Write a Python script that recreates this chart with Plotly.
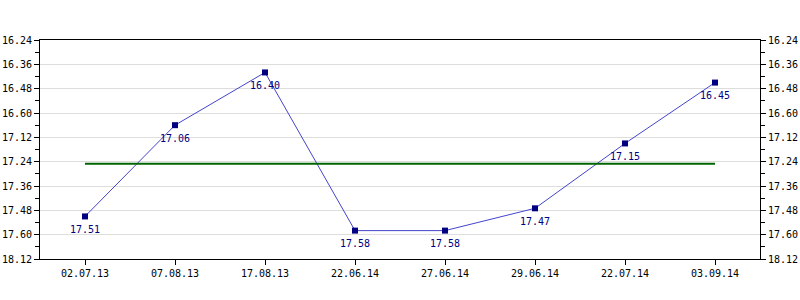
import plotly.graph_objects as go

dates = ["02.07.13", "07.08.13", "17.08.13", "22.06.14", "27.06.14", "29.06.14", "22.07.14", "03.09.14"]
values = ["17.51", "17.06", "16.40", "17.58", "17.58", "17.47", "17.15", "16.45"]
tick_labels = ["16.24", "16.36", "16.48", "16.60", "17.12", "17.24", "17.36", "17.48", "17.60", "18.12"]
mean_label = "17.25"


def to_min(s):
    h, m = s.split(".")
    return int(h) * 60 + int(m)


y = [to_min(v) for v in values]
tickvals = [to_min(t) for t in tick_labels]
mean_v = to_min(mean_label)

font = dict(family="DejaVu Sans Mono", size=10, color="#000000")

fig = go.Figure()
fig.add_trace(go.Scatter(
    x=[dates[0], dates[-1]], y=[mean_v, mean_v], mode="lines",
    line=dict(color="#006400", width=2), hoverinfo="skip", yaxis="y2",
))
fig.add_trace(go.Scatter(
    x=dates, y=y, mode="lines+markers",
    line=dict(color="#4444cc", width=1),
    marker=dict(symbol="square", size=6, color="#000080", line=dict(width=0)),
))
for d, yy, v in zip(dates, y, values):
    fig.add_annotation(
        x=d, y=yy, text=v, showarrow=False, yshift=-13,
        font=dict(family="DejaVu Sans Mono", size=10, color="#000080"),
    )

yax = dict(
    range=[tickvals[-1], tickvals[0]],
    tickmode="array", tickvals=tickvals, ticktext=tick_labels,
    ticks="outside", ticklen=5, tickcolor="#000", tickfont=font,
    showgrid=True, gridcolor="#dddddd", gridwidth=1,
    showline=True, linecolor="#000", linewidth=1,
    zeroline=False, automargin=False,
    minor=dict(dtick=6, tick0=tickvals[0], ticks="outside", ticklen=4, tickcolor="#000", showgrid=False),
)

fig.update_layout(
    width=800, height=300,
    margin=dict(l=40, r=40, t=40, b=41),
    paper_bgcolor="white", plot_bgcolor="white",
    showlegend=False,
    xaxis=dict(
        type="category", categoryorder="array", categoryarray=dates,
        range=[-0.5, len(dates) - 0.5],
        ticks="outside", ticklen=5, tickcolor="#000", tickfont=font,
        showgrid=False, showline=True, linecolor="#000", linewidth=1, mirror=True,
        zeroline=False, automargin=False,
    ),
    yaxis=dict(**yax, side="left"),
    yaxis2=dict(**yax, side="right", overlaying="y", anchor="x"),
)

fig.write_html("out.html")
